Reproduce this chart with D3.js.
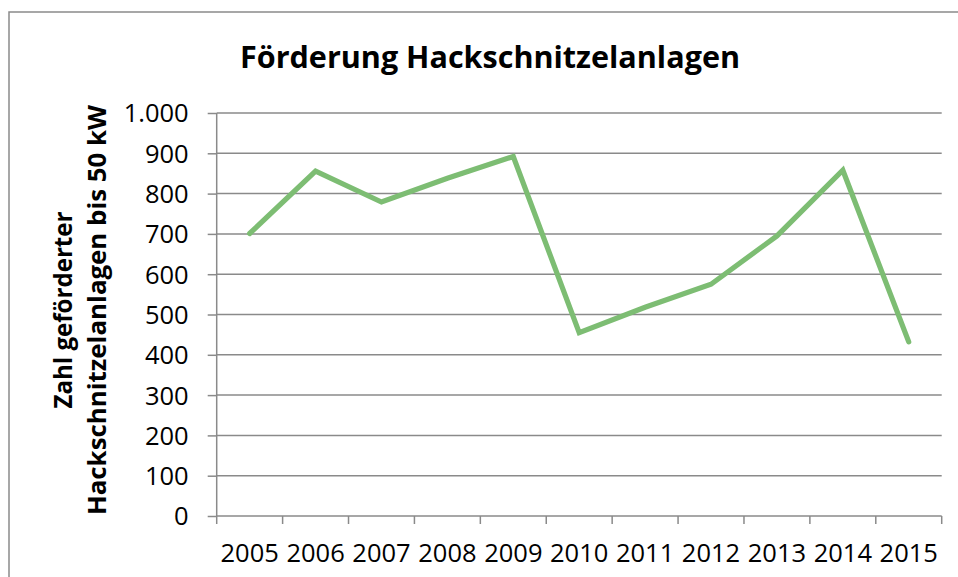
<!DOCTYPE html>
<html><head><meta charset="utf-8">
<script src="https://cdn.jsdelivr.net/npm/d3@7"></script>
<style>html,body{margin:0;padding:0;background:#fff;}svg{display:block;}</style>
</head><body>
<script>
const title = "Förderung Hackschnitzelanlagen";
const yTitleLines = ["Zahl geförderter", "Hackschnitzelanlagen bis 50 kW"];
const years = ["2005","2006","2007","2008","2009","2010","2011","2012","2013","2014","2015"];
const values = [701, 856, 779, 838, 892, 455, 518, 575, 695, 858, 432];
const yTicks = [0,100,200,300,400,500,600,700,800,900,1000];

const W = 958, H = 577;
const svg = d3.select("body").append("svg").attr("width", W).attr("height", H);
const font = "'Open Sans', sans-serif";

// frame
svg.append("rect").attr("x", 9).attr("y", 12).attr("width", 1000).attr("height", 600)
  .attr("fill", "none").attr("stroke", "#8a8a8a").attr("stroke-width", 1.5);

const x = d3.scaleBand().domain(years).range([216.7, 941.7]).padding(0);
const y = d3.scaleLinear().domain([0, 1000]).range([516, 113]);

// gridlines
svg.append("g").selectAll("line").data(yTicks.filter(d => d > 0)).join("line")
  .attr("x1", 216.7).attr("x2", 941.7)
  .attr("y1", d => y(d)).attr("y2", d => y(d))
  .attr("stroke", "#8a8a8a").attr("stroke-width", 1.5);

// y axis
const fmt = d3.formatLocale({decimal: ",", thousands: ".", grouping: [3], currency: ["", "€"]}).format(",d");
const yAxis = svg.append("g").attr("transform", "translate(216.7,0)")
  .call(d3.axisLeft(y).tickValues(yTicks).tickSize(9).tickPadding(19).tickFormat(fmt));
yAxis.select(".domain").attr("stroke", "#8a8a8a").attr("stroke-width", 1.5).attr("d", "M0,113V516");
yAxis.selectAll(".tick line").attr("stroke", "#8a8a8a").attr("stroke-width", 1.5);
yAxis.selectAll(".tick text").attr("font-family", font).attr("font-size", 25.5).attr("fill", "#000").attr("dy", "0.35em");

// x axis
const xAxis = svg.append("g").attr("transform", "translate(0,516)")
  .call(d3.axisBottom(x).tickSize(0).tickPadding(0));
xAxis.select(".domain").attr("stroke", "#8a8a8a").attr("stroke-width", 1.5).attr("d", "M216.7,0H941.7");
xAxis.selectAll(".tick text").attr("font-family", font).attr("font-size", 25.5).attr("fill", "#000")
  .attr("y", 45.5).attr("dy", 0);
// boundary ticks
const bounds = years.map(d => x(d)).concat([x(years[years.length-1]) + x.bandwidth()]);
xAxis.append("g").selectAll("line").data(bounds).join("line")
  .attr("x1", d => d).attr("x2", d => d).attr("y1", 0).attr("y2", 8)
  .attr("stroke", "#8a8a8a").attr("stroke-width", 1.5);

// line
const line = d3.line().x((d, i) => x(years[i]) + x.bandwidth() / 2).y(d => y(d));
svg.append("path").datum(values).attr("d", line)
  .attr("fill", "none").attr("stroke", "#7dbd73").attr("stroke-width", 5.2)
  .attr("stroke-linejoin", "miter").attr("stroke-linecap", "round");

// title
svg.append("text").attr("x", 490).attr("y", 67.5).attr("text-anchor", "middle")
  .attr("font-family", font).attr("font-weight", "bold").attr("font-size", 31)
  .attr("textLength", 500).attr("lengthAdjust", "spacingAndGlyphs").text(title);

// y title
const yt = svg.append("g").attr("transform", "translate(0,310) rotate(-90)");
yt.append("text").attr("x", 0).attr("y", 72).attr("text-anchor", "middle")
  .attr("font-family", font).attr("font-weight", "bold").attr("font-size", 25.5)
  .attr("textLength", 197).attr("lengthAdjust", "spacingAndGlyphs").text(yTitleLines[0]);
yt.append("text").attr("x", 0).attr("y", 105.5).attr("text-anchor", "middle")
  .attr("font-family", font).attr("font-weight", "bold").attr("font-size", 25.5)
  .attr("textLength", 410).attr("lengthAdjust", "spacingAndGlyphs").text(yTitleLines[1]);
</script>
</body></html>
